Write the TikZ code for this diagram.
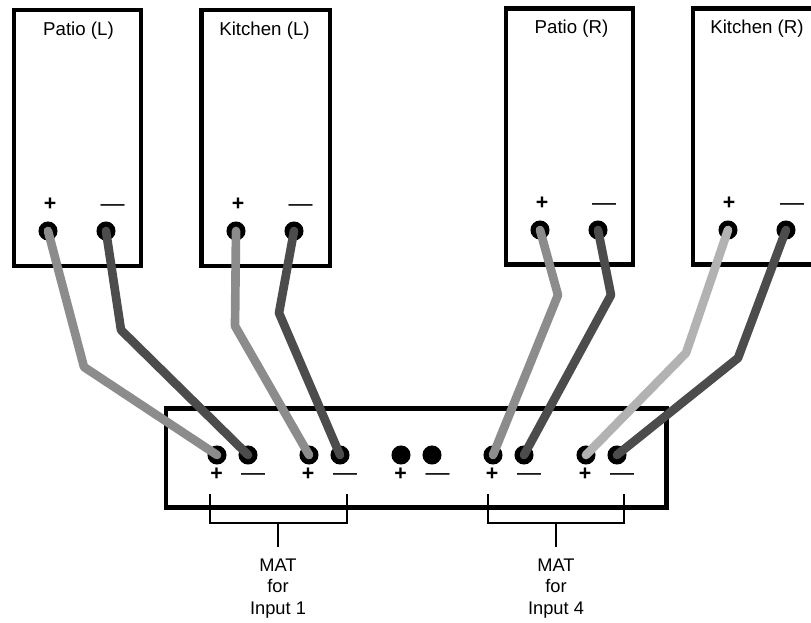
\documentclass[tikz,border=0pt]{standalone}
\usepackage{fontspec}
\setmainfont{Liberation Sans}
\begin{document}
\begin{tikzpicture}[x=0.75pt,y=-0.75pt,
  box/.style={draw=black,line width=3.3pt,fill=white,inner sep=0pt,outer sep=0pt,anchor=north west},
  term/.style={circle,fill=black,minimum size=14.3pt,inner sep=0pt},
  wiremid/.style={draw=black!45,line width=6.5pt,line join=round,line cap=round},
  wiredark/.style={draw=black!70,line width=6.5pt,line join=round,line cap=round},
  wirelight/.style={draw=black!30,line width=6.5pt,line join=round,line cap=round},
  lbl/.style={inner sep=0pt,font=\fontsize{14}{16}\selectfont},
  plus/.style={inner sep=0pt,font=\bfseries\fontsize{16}{18}\selectfont},
  minus/.style={inner sep=0pt,font=\fontsize{18}{20}\selectfont},
  matlbl/.style={inner sep=0pt,align=center,font=\fontsize{13.7}{16.2}\selectfont},
  brk/.style={draw=black,line width=1.3pt}]
\useasboundingbox (0,0) rectangle (811,623);
% boxes
\node[box,minimum width=95.25pt,minimum height=192pt] (bPL) at (14,10) {};
\node[box,minimum width=96.4pt,minimum height=192pt] (bKL) at (201.5,10) {};
\node[box,minimum width=95.25pt,minimum height=192pt] (bPR) at (506,8.5) {};
\node[box,minimum width=95.25pt,minimum height=192pt] (bKR) at (693,8.5) {};
\node[box,minimum width=375.4pt,minimum height=74.2pt] (mat) at (166,408.5) {};
% labels
\node[lbl] (tPL) at (78.5,31) {Patio (L)};
\node[lbl] (tKL) at (264.5,31) {Kitchen (L)};
\node[lbl] (tPR) at (571.5,29) {Patio (R)};
\node[lbl] (tKR) at (757,29) {Kitchen (R)};
% terminals
\foreach \n/\x/\y in {a/48/231,b/106/231,c/236/231,d/294/231,e/540/230,f/598/230,g/728/230,h/786/230,
 p/217/455,q/248/455,r/309/455,s/340/455,t/401/455,u/432/455,v/493/455,w/524/455,y/586/455,z/617/455}
  \node[term] (\n) at (\x,\y) {};
% wires
\coordinate (a1) at (84,367);  \coordinate (b1) at (121,330);
\coordinate (c1) at (235,326); \coordinate (d1) at (279,313);
\coordinate (e1) at (558,295); \coordinate (f1) at (611,295);
\coordinate (g1) at (686,353); \coordinate (h1) at (738,358);
\draw[wiremid]  (a.center) -- (a1) -- (p.center);
\draw[wiredark] (b.center) -- (b1) -- (q.center);
\draw[wiremid]  (c.center) -- (c1) -- (r.center);
\draw[wiredark] (d.center) -- (d1) -- (s.center);
\draw[wiremid]  (e.center) -- (e1) -- (v.center);
\draw[wiredark] (f.center) -- (f1) -- (w.center);
\draw[wirelight](g.center) -- (g1) -- (y.center);
\draw[wiredark] (h.center) -- (h1) -- (z.center);
% polarity marks
\foreach \n/\x/\y in {pa/50/204,pc/238/204,pe/542/203,pg/729/203,pp/216.5/474.5,pr/308/474.5,pt/400.5/474.5,pv/492/474.5,py/585/474.5}
  \node[plus] (\n) at (\x,\y) {+};
\foreach \n/\x/\y in {mb/112.5/208.5,md/300.5/208.5,mf/604/207.5,mh/792/207.5,mq/253/477.5,ms/345/477.5,mu/437.5/477.5,mw/529/477.5,mz/622/477.5}
  \node[minus] (\n) at (\x,\y) {—};
% brackets
\coordinate (l1a) at (210,494); \coordinate (l1b) at (210,523);
\coordinate (l1c) at (347,523); \coordinate (l1d) at (347,494);
\coordinate (l4a) at (488,494); \coordinate (l4b) at (488,523);
\coordinate (l4c) at (624,523); \coordinate (l4d) at (624,494);
\draw[brk] (l1a) -- (l1b) -- (l1c) -- (l1d);
\draw[brk] (l4a) -- (l4b) -- (l4c) -- (l4d);
\node[matlbl,anchor=north] (m1) at (278,558.5) {MAT\\for\\Input 1};
\node[matlbl,anchor=north] (m4) at (556,558.5) {MAT\\for\\Input 4};
\coordinate (s1) at (278,523); \coordinate (s4) at (556,523);
\coordinate (e1s) at (278,547); \coordinate (e4s) at (556,547);
\draw[brk] (s1) -- (e1s);
\draw[brk] (s4) -- (e4s);
\end{tikzpicture}
\end{document}
